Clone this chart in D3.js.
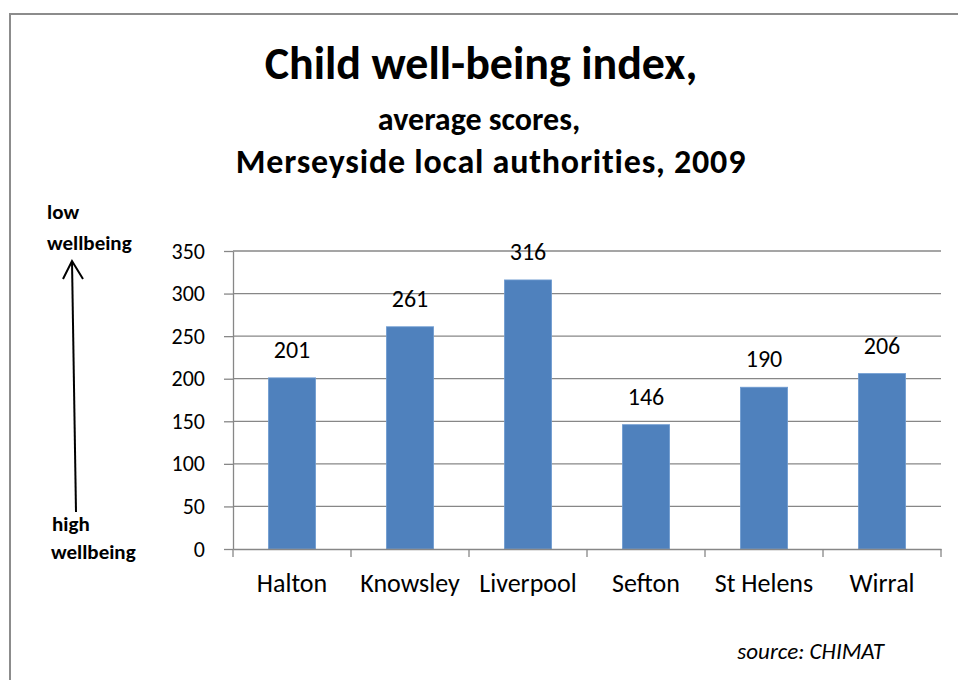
<!DOCTYPE html>
<html>
<head>
<meta charset="utf-8">
<script src="https://cdn.jsdelivr.net/npm/d3@7"></script>
<style>
    body { margin: 0; background: #fff; }
    svg text { font-family: Carlito, Lato, sans-serif; fill: #000; }
</style>
</head>
<body>
<div id="chart"></div>
<script>
"use strict";

// Values
const categories = ["Halton", "Knowsley", "Liverpool", "Sefton", "St Helens", "Wirral"];
const scores = [201, 261, 316, 146, 190, 206];
const yTicks = [0, 50, 100, 150, 200, 250, 300, 350];
const titleLines = ["Child well-being index,", "average scores,", "Merseyside local authorities, 2009"];

const width = 958, height = 680;
const margin = { top: 251, right: 17, bottom: 131, left: 233 };
const barColor = "#4f81bd";
const gridColor = "#878787";

const svg = d3.select("#chart").append("svg")
    .attr("width", width)
    .attr("height", height);

// Outer chart border (only top and left edges fall inside the picture)
svg.append("rect")
    .attr("x", 10)
    .attr("y", 14)
    .attr("width", width + 20)
    .attr("height", height + 20)
    .attr("fill", "none")
    .attr("stroke", "#8c8c8c")
    .attr("stroke-width", 2);

const x = d3.scaleBand()
    .domain(categories)
    .range([margin.left, width - margin.right])
    .paddingInner(0.6)
    .paddingOuter(0.3);

const y = d3.scaleLinear()
    .domain([0, 350])
    .range([height - margin.bottom, margin.top]);

// Gridlines
svg.append("g")
    .selectAll("line")
    .data(yTicks.slice(1))
    .join("line")
    .attr("x1", margin.left)
    .attr("x2", width - margin.right)
    .attr("y1", d => y(d))
    .attr("y2", d => y(d))
    .attr("stroke", gridColor)
    .attr("stroke-width", 1.3);

// Y axis
svg.append("g")
    .attr("transform", `translate(${margin.left},0)`)
    .call(d3.axisLeft(y).tickValues(yTicks).tickSize(9).tickPadding(19).tickSizeOuter(0))
    .call(g => g.selectAll("line, path").attr("stroke", gridColor).attr("stroke-width", 1.3))
    .call(g => g.selectAll("text").attr("font-size", 22));

// Bars
svg.append("g")
    .selectAll("rect")
    .data(scores)
    .join("rect")
    .attr("x", (d, i) => x(categories[i]))
    .attr("y", d => y(d))
    .attr("width", x.bandwidth())
    .attr("height", d => y(0) - y(d))
    .attr("fill", barColor)
    .attr("stroke", "#6f9bd1")
    .attr("stroke-width", 0.8);

// Value labels
svg.append("g")
    .selectAll("text")
    .data(scores)
    .join("text")
    .attr("x", (d, i) => x(categories[i]) + x.bandwidth() / 2)
    .attr("y", d => y(d) - 20)
    .attr("text-anchor", "middle")
    .attr("font-size", 24)
    .text(d => d);

// X axis: ticks sit between the categories
const step = x.step();
const bounds = categories.map(c => x(c) - step * x.paddingInner() / 2).concat([width - margin.right]);
const xAxis = svg.append("g")
    .attr("transform", `translate(0,${y(0)})`);
xAxis.call(d3.axisBottom(x).tickSize(0).tickPadding(25))
    .call(g => g.select(".domain").attr("stroke", gridColor).attr("stroke-width", 1.3))
    .call(g => g.selectAll("text").attr("font-size", 26));
xAxis.selectAll(".sep")
    .data(bounds)
    .join("line")
    .attr("class", "sep")
    .attr("x1", d => d)
    .attr("x2", d => d)
    .attr("y1", 0)
    .attr("y2", 8)
    .attr("stroke", gridColor)
    .attr("stroke-width", 1.3);

// Title
const title = svg.append("g").attr("font-weight", "bold").attr("text-anchor", "middle");
title.append("text").attr("x", 481).attr("y", 79).attr("font-size", 46).text(titleLines[0]);
title.append("text").attr("x", 479).attr("y", 130).attr("font-size", 32).text(titleLines[1]);
title.append("text").attr("x", 491).attr("y", 173).attr("font-size", 34)
    .attr("letter-spacing", 0.8).text(titleLines[2]);

// Left-hand annotation: arrow pointing from high to low wellbeing
const note = svg.append("g").attr("font-weight", "bold").attr("font-size", 21);
note.append("text").attr("x", 47).attr("y", 219).text("low");
note.append("text").attr("x", 47).attr("y", 250).text("wellbeing");
note.append("text").attr("x", 52).attr("y", 531).text("high");
note.append("text").attr("x", 51).attr("y", 559).text("wellbeing");

const arrow = svg.append("g")
    .attr("stroke", "#000")
    .attr("stroke-width", 2)
    .attr("fill", "none");
arrow.append("line").attr("x1", 76).attr("y1", 512).attr("x2", 72).attr("y2", 261);
arrow.append("path").attr("d", "M63,279L72,261L83,279");

// Source note
svg.append("text")
    .attr("x", 884)
    .attr("y", 659)
    .attr("text-anchor", "end")
    .attr("font-style", "italic")
    .attr("font-size", 23)
    .text("source: CHIMAT");
</script>
</body>
</html>
